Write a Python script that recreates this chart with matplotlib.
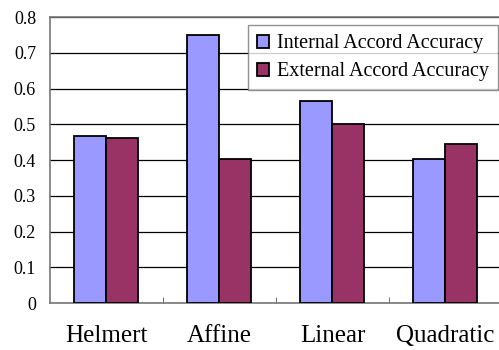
import numpy as np
import matplotlib.pyplot as plt
from matplotlib.ticker import FixedLocator, NullFormatter

categories = ["Helmert", "Affine", "Linear", "Quadratic"]
internal = [0.467, 0.750, 0.565, 0.402]
external = [0.461, 0.402, 0.500, 0.445]

plt.rcParams['font.family'] = ['Liberation Serif', 'DejaVu Serif']

fig = plt.figure(figsize=(4.99, 3.5), dpi=100)
ax = fig.add_axes([0.1, 0.134, 0.906, 0.817])

x = np.arange(len(categories))
w = 0.283
ax.bar(x - w / 2, internal, w, color="#9999FF", edgecolor="black", linewidth=1.3,
       label="Internal Accord Accuracy", zorder=3)
ax.bar(x + w / 2, external, w, color="#993366", edgecolor="black", linewidth=1.3,
       label="External Accord Accuracy", zorder=3)

ax.set_xlim(-0.5, len(categories) - 0.5)
ax.set_ylim(0, 0.8)
ax.set_yticks(np.arange(0, 0.81, 0.1))
ax.set_yticklabels(["0"] + [f"{v:.1f}" for v in np.arange(0.1, 0.81, 0.1)], fontsize=13)
ax.yaxis.grid(True, color="black", linewidth=0.9, zorder=0)
ax.tick_params(axis="y", length=0, pad=10)

ax.set_xticks(x)
ax.set_xticklabels(categories, fontsize=18)
ax.tick_params(axis="x", which="major", length=0, pad=16)
ax.xaxis.set_minor_locator(FixedLocator(x[:-1] + 0.5))
ax.xaxis.set_minor_formatter(NullFormatter())
ax.tick_params(axis="x", which="minor", direction="in", length=4, color="#555555")

for s in ax.spines.values():
    s.set_color("#777777")
    s.set_linewidth(1.2)

leg = ax.legend(loc="upper right", bbox_to_anchor=(0.991, 0.972), fontsize=14.5,
                frameon=True, fancybox=False, handlelength=0.6, handleheight=0.6,
                handletextpad=0.4, borderpad=0.45, labelspacing=0.45,
                borderaxespad=0)
leg.get_frame().set_edgecolor("#777777")
leg.get_frame().set_linewidth(1.0)

fig.savefig("out.png", dpi=100)
